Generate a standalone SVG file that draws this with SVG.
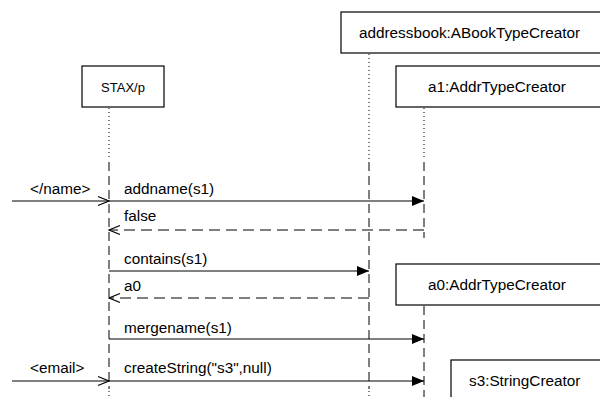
<svg xmlns="http://www.w3.org/2000/svg" width="600" height="397" viewBox="0 0 600 397">
  <style>
    text { font-family: "Liberation Sans", Arial, sans-serif; font-size: 15.3px; fill: #000; }
    .box { fill: #fff; stroke: #000; stroke-width: 1.2; }
    .dot { stroke: #000; stroke-width: 1; stroke-dasharray: 1 3; fill: none; }
    .life { stroke: #000; stroke-width: 1; stroke-dasharray: 9 5; fill: none; }
    .call { stroke: #000; stroke-width: 1; fill: none; marker-end: url(#filled); }
    .ret { stroke: #000; stroke-width: 1; stroke-dasharray: 11 6; fill: none; marker-end: url(#open); }
    .found { stroke: #000; stroke-width: 1; fill: none; marker-end: url(#open); }
  </style>
  <defs>
    <marker id="filled" viewBox="0 0 12 10" refX="12" refY="5" markerWidth="12" markerHeight="10" markerUnits="userSpaceOnUse" orient="auto">
      <path d="M0,0 L12,5 L0,10 Z" fill="#000"/>
    </marker>
    <marker id="open" viewBox="0 0 14 12" refX="13" refY="6" markerWidth="14" markerHeight="12" markerUnits="userSpaceOnUse" orient="auto">
      <path d="M2,1.5 L13,6 L2,10.5" fill="none" stroke="#000" stroke-width="1.2"/>
    </marker>
  </defs>

  <!-- participants -->
  <g id="stax">
    <rect class="box" x="82" y="66" width="82" height="41"/>
    <text x="123" y="91.5" text-anchor="middle" style="font-size:13px">STAX/p</text>
    <line class="dot" x1="109" y1="108" x2="109" y2="160"/>
    <line class="life" x1="109" y1="162" x2="109" y2="389"/>
    <line class="dot" x1="109" y1="391" x2="109" y2="397"/>
  </g>
  <g id="addressbook">
    <rect class="box" x="341" y="12" width="270" height="41"/>
    <text x="359" y="38">addressbook:ABookTypeCreator</text>
    <line class="dot" x1="369" y1="54" x2="369" y2="160"/>
    <line class="life" x1="369" y1="162" x2="369" y2="389"/>
    <line class="dot" x1="369" y1="391" x2="369" y2="397"/>
  </g>
  <g id="a1">
    <rect class="box" x="396" y="66" width="215" height="41"/>
    <text x="428" y="91.5">a1:AddrTypeCreator</text>
    <line class="dot" x1="424" y1="108" x2="424" y2="160"/>
    <line class="life" x1="424" y1="162" x2="424" y2="238"/>
  </g>
  <g id="a0">
    <rect class="box" x="396" y="264" width="215" height="41"/>
    <text x="428" y="290">a0:AddrTypeCreator</text>
    <line class="life" x1="424" y1="306" x2="424" y2="397"/>
  </g>
  <g id="s3">
    <rect class="box" x="451" y="360" width="160" height="50"/>
    <text x="469" y="386">s3:StringCreator</text>
  </g>

  <!-- messages -->
  <g id="connectors">
    <line class="found" x1="12" y1="201" x2="109" y2="201"/>
    <line class="call" x1="109" y1="201" x2="424" y2="201"/>
    <line class="ret" x1="424" y1="230" x2="109" y2="230"/>
    <line class="call" x1="109" y1="271" x2="369" y2="271"/>
    <line class="ret" x1="369" y1="298" x2="109" y2="298"/>
    <line class="call" x1="109" y1="339" x2="424" y2="339"/>
    <line class="found" x1="12" y1="381" x2="109" y2="381"/>
    <line class="call" x1="109" y1="381" x2="424" y2="381"/>
  </g>
  <g id="labels">
    <text x="30" y="194">&lt;/name&gt;</text>
    <text x="124" y="194">addname(s1)</text>
    <text x="124" y="221">false</text>
    <text x="124" y="264">contains(s1)</text>
    <text x="124" y="291">a0</text>
    <text x="124" y="333">mergename(s1)</text>
    <text x="30" y="373">&lt;email&gt;</text>
    <text x="124" y="373">createString("s3",null)</text>
  </g>
</svg>
